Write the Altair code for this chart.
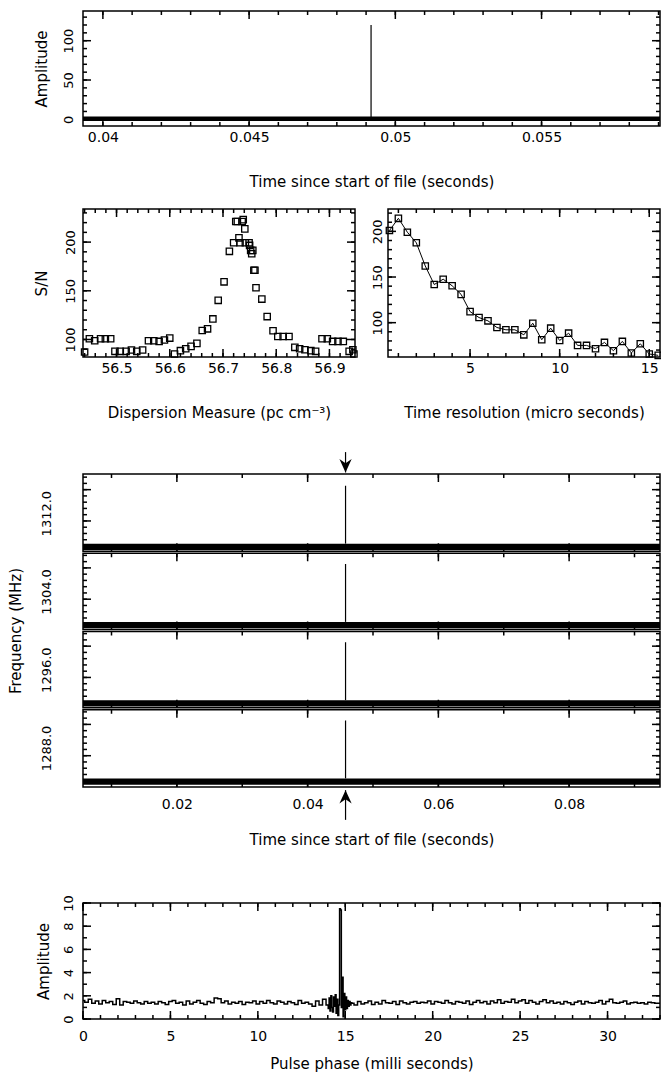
import json
import math
import altair as alt
import pandas as pd

FONT = "DejaVu Sans"

# ------------------------------------------------------------------ data
top_x_domain = [0.03932, 0.05905]
top_y_domain = [-8.5, 137.8]
top_noise_band = [-2.0, 3.5]
top_spike_time = [0.04917]
top_spike_amp = [120.0]

dm_x_domain = [56.437, 56.948]
dm_y_domain = [82.0, 234.0]
dm_values = [56.440, 56.449, 56.459, 56.470, 56.479, 56.489, 56.497, 56.507, 56.518, 56.528,
             56.538, 56.549, 56.560, 56.570, 56.580, 56.590, 56.600, 56.609, 56.620, 56.630,
             56.640, 56.651, 56.661, 56.671, 56.681, 56.691, 56.702, 56.712, 56.720, 56.724,
             56.727, 56.730, 56.732, 56.736, 56.738, 56.741, 56.742, 56.749, 56.750, 56.752,
             56.754, 56.756, 56.758, 56.760, 56.762, 56.773, 56.783, 56.794, 56.803, 56.813,
             56.824, 56.835, 56.844, 56.854, 56.865, 56.874, 56.886, 56.896, 56.906, 56.916,
             56.926, 56.937, 56.944, 56.946]
dm_snr = [87.1, 100.7, 98.7, 100.7, 100.7, 100.7, 87.8, 87.8, 87.8, 89.2,
          87.8, 89.2, 98.7, 98.7, 98.0, 99.4, 101.4, 85.1, 88.5, 90.5,
          92.9, 96.0, 109.2, 110.9, 121.1, 140.2, 159.2, 190.5, 199.3, 221.1,
          221.1, 204.4, 199.3, 221.1, 223.1, 213.6, 199.3, 199.3, 196.6, 191.5,
          188.1, 191.5, 171.1, 171.1, 153.1, 141.5, 123.5, 108.9, 103.1, 103.1,
          103.1, 91.9, 90.5, 89.5, 88.5, 87.8, 100.7, 100.7, 98.0, 98.0,
          98.0, 87.8, 89.5, 85.1]

tres_x_domain = [0.42, 15.6]
tres_y_domain = [62.4, 224.5]
tres_values = [0.5, 1.0, 1.5, 2.0, 2.5, 3.0, 3.5, 4.0, 4.5, 5.0, 5.5, 6.0, 6.5, 7.0, 7.5, 8.0,
               8.5, 9.0, 9.5, 10.0, 10.5, 11.0, 11.5, 12.0, 12.5, 13.0, 13.5, 14.0, 14.5, 15.0, 15.5]
tres_snr = [200.9, 214.3, 199.1, 187.5, 162.1, 141.8, 147.6, 140.4, 131.0, 112.1, 105.6, 102.0,
            94.7, 92.2, 92.2, 86.7, 99.4, 81.3, 94.0, 80.5, 88.5, 75.1, 75.1, 71.5, 78.4, 69.3,
            79.5, 66.8, 76.9, 65.7, 64.2]

wf_x_domain = [0.00564, 0.0939]
wf_freq_labels = ["1312.0", "1304.0", "1296.0", "1288.0"]
wf_noise_band = [0.03, 0.11]
wf_spike_top = 0.85
wf_spike_time = [0.0458]
wf_arrow_above = [4.02, 4.28]
wf_arrow_below = [-0.04, -0.42]

prof_x_domain = [0.0, 33.0]
prof_y_domain = [0.0, 10.0]
prof_seg1_start, prof_seg1_step = 0.0, 0.2
prof_seg1 = [1.6, 1.45, 1.7, 1.35, 1.55, 1.3, 1.6, 1.4, 1.5, 1.25,
             1.75, 1.2, 1.5, 1.45, 1.35, 1.55, 1.4, 1.3, 1.5, 1.35,
             1.45, 1.3, 1.5, 1.4, 1.25, 1.5, 1.6, 1.35, 1.45, 1.2,
             1.55, 1.3, 1.45, 1.6, 1.35, 1.25, 1.5, 1.4, 1.8, 1.75,
             1.4, 1.55, 1.3, 1.45, 1.35, 1.5, 1.25, 1.45, 1.4, 1.55,
             1.3, 1.5, 1.35, 1.6, 1.4, 1.3, 1.55, 1.45, 1.3, 1.5,
             1.4, 1.25, 1.6, 1.35, 1.45, 1.3, 1.1, 1.55, 1.2, 1.7]
prof_seg2_start, prof_seg2_step = 14.0, 0.05
prof_seg2 = [1.2, 0.9, 1.8, 0.7, 2.0, 1.0, 0.6, 1.9, 1.1, 2.1, 0.5, 1.7, 0.3, 1.2,
             9.5, 9.4, 1.0, 3.6, 0.2, 2.2, 0.8, 1.9, 0.9, 1.6, 1.1, 1.5, 1.2, 1.4]
prof_seg3_start, prof_seg3_step = 15.4, 0.2
prof_seg3 = [1.35, 1.2, 1.5, 1.3, 1.4, 1.55, 1.25, 1.45, 1.3, 1.6,
             1.4, 1.35, 1.5, 1.25, 1.55, 1.4, 1.3, 1.45, 1.5, 1.35,
             1.45, 1.4, 1.55, 1.3, 1.5, 1.45, 1.35, 1.6, 1.4, 1.3,
             1.5, 1.45, 1.35, 1.55, 1.25, 1.45, 1.6, 1.4, 1.5, 1.3,
             1.55, 1.4, 1.65, 1.35, 1.5, 1.45, 1.7, 1.4, 1.55, 1.65,
             1.35, 1.6, 1.45, 1.3, 1.5, 1.65, 1.4, 1.55, 1.35, 1.45,
             1.3, 1.5, 1.4, 1.25, 1.45, 1.55, 1.3, 1.5, 1.4, 1.35,
             1.45, 1.6, 1.3, 1.5, 1.7, 1.4, 1.35, 1.45, 1.55, 1.3,
             1.4, 1.45, 1.35, 1.4, 1.3, 1.45, 1.4, 1.35, 1.35]

# ------------------------------------------------------------------ layout
W_TOTAL, H_TOTAL = 577, 1008
FULL_X = (0, 577)
DM_X = (0, 272)
TRES_X = (305, 577)
TOP_Y = (0, 115)
MID_Y = (198, 346)
WF_Y = (463, 776)
PROF_Y = (892, 1008)

# tick glyph kinds -> stroke paths in pixel units (symbol size 4 => unit scale)
TICK_KINDS = ["u8", "u4", "d8", "d4", "r8", "r4", "l8", "l4"]
TICK_PATHS = ["M0,0L0,-8", "M0,0L0,-4", "M0,0L0,8", "M0,0L0,4",
              "M0,0L8,0", "M0,0L4,0", "M0,0L-8,0", "M0,0L-4,0"]


def tick_values(lo, hi, minor, major):
    n0 = math.ceil(lo / minor - 1e-9)
    n1 = math.floor(hi / minor + 1e-9)
    vals = [round(k * minor, 6) for k in range(n0, n1 + 1)]
    majors = [v for v in vals if abs(v / major - round(v / major)) < 1e-6]
    return vals, majors


def sc(dom, rng):
    return alt.Scale(domain=list(dom), range=list(rng), nice=False, zero=False)


def xlab_ax(vals, title, pad, tpad):
    return alt.Axis(orient="bottom", values=vals, ticks=False, domain=False, grid=False,
                    format="~f", labelPadding=pad, labelFlush=False, labelOverlap=False,
                    labelFontSize=14, title=title, titlePadding=tpad, titleFontSize=15)


def ylab_ax(vals, title, pad, tpad, expr=None):
    kw = dict(orient="left", values=vals, ticks=False, domain=False, grid=False, format="~f",
              labelAngle=270, labelAlign="center", labelBaseline="bottom",
              labelPadding=pad, labelFlush=False, labelOverlap=False, labelFontSize=13,
              title=title, titlePadding=tpad, titleFontSize=15)
    if expr:
        kw["labelExpr"] = expr
    return alt.Axis(**kw)


def label_layer(xdom, ydom, xr, yr, xax, yax):
    df = pd.DataFrame({"x": [xdom[0]], "y": [ydom[0]]})
    xax["offset"] = yr[0] - H_TOTAL
    yax["offset"] = -xr[0]
    return alt.Chart(df).mark_point(opacity=0, size=1).encode(
        x=alt.X("x:Q", scale=sc(xdom, xr), axis=xax),
        y=alt.Y("y:Q", scale=sc(ydom, yr), axis=yax))


def rect_layer(xs, ys, x0, x1, y0, y1, **mark):
    df = pd.DataFrame({"rx0": x0, "rx1": x1, "ry0": y0, "ry1": y1})
    return alt.Chart(df).mark_rect(**mark).encode(
        x=alt.X("rx0:Q", scale=xs, axis=None), x2="rx1:Q",
        y=alt.Y("ry0:Q", scale=ys, axis=None), y2="ry1:Q")


def box_layer(xs, ys, x0, x1, y0, y1):
    return rect_layer(xs, ys, x0, x1, y0, y1, fillOpacity=0, stroke="black", strokeWidth=1.5)


class TickSet:
    """Collects inward PGPLOT-style ticks of one panel into a single symbol layer."""

    def __init__(self):
        self.x, self.y, self.k = [], [], []

    def xedge(self, vals, edge, inward_up, major):
        kind = ("u" if inward_up else "d") + ("8" if major else "4")
        for v in vals:
            self.x.append(v)
            self.y.append(edge)
            self.k.append(kind)

    def yedge(self, vals, edge, inward_right, major):
        kind = ("r" if inward_right else "l") + ("8" if major else "4")
        for v in vals:
            self.x.append(edge)
            self.y.append(v)
            self.k.append(kind)

    def layer(self, xs, ys):
        df = pd.DataFrame({"tx": self.x, "ty": self.y, "kind": self.k})
        return alt.Chart(df).mark_point(filled=False, color="black", size=4, strokeWidth=1.5,
                                        opacity=1).encode(
            x=alt.X("tx:Q", scale=xs, axis=None),
            y=alt.Y("ty:Q", scale=ys, axis=None),
            shape=alt.Shape("kind:N", scale=alt.Scale(domain=TICK_KINDS, range=TICK_PATHS),
                            legend=None))


def panel(xdom, ydom, xpx, ypx, xt, yt, xax, yax):
    yr = (ypx[1], ypx[0])
    xs, ys = sc(xdom, xpx), sc(ydom, yr)
    xv, xm = xt
    yv, ym = yt
    t = TickSet()
    for vals, major in ((xv, False), (xm, True)):
        t.xedge(vals, ydom[0], True, major)
        t.xedge(vals, ydom[1], False, major)
    for vals, major in ((yv, False), (ym, True)):
        t.yedge(vals, xdom[0], True, major)
        t.yedge(vals, xdom[1], False, major)
    L = [label_layer(xdom, ydom, xpx, yr, xax, yax),
         box_layer(xs, ys, [xdom[0]], [xdom[1]], [ydom[0]], [ydom[1]]),
         t.layer(xs, ys)]
    return xs, ys, L


layers = []

# ------------------------------------------------------------------ top panel
xt = tick_values(*top_x_domain, 0.001, 0.005)
yt = tick_values(*top_y_domain, 10, 50)
xs, ys, L = panel(top_x_domain, top_y_domain, FULL_X, TOP_Y, xt, yt,
                  xlab_ax(xt[1], "Time since start of file (seconds)", 4, 30),
                  ylab_ax(yt[1], "Amplitude", 8, 13))
layers += L
layers.append(rect_layer(xs, ys, [top_x_domain[0]], [top_x_domain[1]],
                         [top_noise_band[0]], [top_noise_band[1]], color="black"))
layers.append(alt.Chart(pd.DataFrame({"t": top_spike_time, "lo": [0.0], "hi": top_spike_amp})).mark_rule(
    color="black", strokeWidth=1.2).encode(
    x=alt.X("t:Q", scale=xs, axis=None), y=alt.Y("lo:Q", scale=ys, axis=None), y2="hi:Q"))

# ------------------------------------------------------------------ DM panel
xt = tick_values(*dm_x_domain, 0.02, 0.1)
yt = tick_values(*dm_y_domain, 10, 50)
xs, ys, L = panel(dm_x_domain, dm_y_domain, DM_X, MID_Y, xt, yt,
                  xlab_ax(xt[1], "Dispersion Measure (pc cm\u207b\u00b3)", 4, 30),
                  ylab_ax(yt[1], "S/N", 6, 15))
layers += L
layers.append(alt.Chart(pd.DataFrame({"dm": dm_values, "snr": dm_snr})).mark_point(
    shape="square", filled=False, color="black", size=40, strokeWidth=1.3, opacity=1).encode(
    x=alt.X("dm:Q", scale=xs, axis=None), y=alt.Y("snr:Q", scale=ys, axis=None)))

# ------------------------------------------------------------------ time-resolution panel
xt = tick_values(*tres_x_domain, 1, 5)
yt = tick_values(*tres_y_domain, 10, 50)
xs, ys, L = panel(tres_x_domain, tres_y_domain, TRES_X, MID_Y, xt, yt,
                  xlab_ax(xt[1], "Time resolution (micro seconds)", 4, 30),
                  ylab_ax(yt[1], None, 4, 10))
layers += L
tres_df = pd.DataFrame({"res": tres_values, "snr": tres_snr})
layers.append(alt.Chart(tres_df).mark_line(color="black", strokeWidth=1).encode(
    x=alt.X("res:Q", scale=xs, axis=None), y=alt.Y("snr:Q", scale=ys, axis=None)))
layers.append(alt.Chart(tres_df).mark_point(
    shape="square", filled=False, color="black", size=40, strokeWidth=1.3, opacity=1).encode(
    x=alt.X("res:Q", scale=xs, axis=None), y=alt.Y("snr:Q", scale=ys, axis=None)))

# ------------------------------------------------------------------ waterfall panel
n_sub = len(wf_freq_labels)
wf_y_domain = [0, n_sub]
wf_yr = (WF_Y[1], WF_Y[0])
xs, ys = sc(wf_x_domain, FULL_X), sc(wf_y_domain, wf_yr)
h_sub = (WF_Y[1] - WF_Y[0]) / n_sub
gap = 1.0 / h_sub
xv, xm = tick_values(*wf_x_domain, 0.01, 0.02)
sub_fracs = [0.08, 0.16, 0.24, 0.32, 0.40, 0.48, 0.56, 0.64, 0.72, 0.80, 0.88, 0.96]
sub_major = [0.40, 0.80]
yv = [round(k + f, 4) for k in range(n_sub) for f in sub_fracs]
ym = [round(k + f, 4) for k in range(n_sub) for f in sub_major]
base = [n_sub - 1 - k for k in range(n_sub)]
sub_lo = [b + (gap if b > 0 else 0) for b in base]
sub_hi = [b + 1 - (gap if b < n_sub - 1 else 0) for b in base]

label_expr = "%s[floor(datum.value)]" % json.dumps(list(reversed(wf_freq_labels)))
layers.append(label_layer(wf_x_domain, wf_y_domain, FULL_X, wf_yr,
                          xlab_ax(xm, "Time since start of file (seconds)", 10, 21),
                          ylab_ax([k + 0.5 for k in range(n_sub)], "Frequency (MHz)", 30, 17,
                                  label_expr)))
layers.append(box_layer(xs, ys, [wf_x_domain[0]] * n_sub, [wf_x_domain[1]] * n_sub, sub_lo, sub_hi))
wt = TickSet()
for k in range(n_sub):
    for vals, major in ((xv, False), (xm, True)):
        wt.xedge(vals, sub_hi[k], False, major)
        wt.xedge(vals, sub_lo[k], True, major)
for vals, major in ((yv, False), (ym, True)):
    wt.yedge(vals, wf_x_domain[0], True, major)
    wt.yedge(vals, wf_x_domain[1], False, major)
layers.append(wt.layer(xs, ys))

layers.append(rect_layer(xs, ys, [wf_x_domain[0]] * n_sub, [wf_x_domain[1]] * n_sub,
                         [b + wf_noise_band[0] for b in base],
                         [b + wf_noise_band[1] for b in base], color="black"))
layers.append(alt.Chart(pd.DataFrame({
    "t": wf_spike_time * n_sub,
    "lo": [b + wf_noise_band[1] for b in base],
    "hi": [b + wf_spike_top for b in base]})).mark_rule(color="black", strokeWidth=1.2).encode(
    x=alt.X("t:Q", scale=xs, axis=None), y=alt.Y("lo:Q", scale=ys, axis=None), y2="hi:Q"))
arrow_df = pd.DataFrame({
    "t": wf_spike_time * 2,
    "tip": [wf_arrow_above[0], wf_arrow_below[0]],
    "end": [wf_arrow_above[1], wf_arrow_below[1]],
    "dir": ["down", "up"]})
layers.append(alt.Chart(arrow_df).mark_rule(color="black", strokeWidth=1.2).encode(
    x=alt.X("t:Q", scale=xs, axis=None), y=alt.Y("tip:Q", scale=ys, axis=None), y2="end:Q"))
layers.append(alt.Chart(arrow_df).mark_point(filled=True, color="black", size=150, opacity=1).encode(
    x=alt.X("t:Q", scale=xs, axis=None),
    y=alt.Y("tip:Q", scale=ys, axis=None),
    shape=alt.Shape("dir:N", scale=alt.Scale(
        domain=["down", "up"],
        range=["M-1,-2.2L0,0L1,-2.2L0,-1.5Z", "M-1,2.2L0,0L1,2.2L0,1.5Z"]), legend=None)))

# ------------------------------------------------------------------ pulse profile
xt = tick_values(*prof_x_domain, 1, 5)
yt = tick_values(*prof_y_domain, 1, 2)
xs, ys, L = panel(prof_x_domain, prof_y_domain, FULL_X, PROF_Y, xt, yt,
                  xlab_ax(xt[1], "Pulse phase (milli seconds)", 10, 13),
                  ylab_ax(yt[1], "Amplitude", 8, 11))
layers += L
px, py = [], []
for start, step, seg in ((prof_seg1_start, prof_seg1_step, prof_seg1),
                         (prof_seg2_start, prof_seg2_step, prof_seg2),
                         (prof_seg3_start, prof_seg3_step, prof_seg3)):
    for i, v in enumerate(seg):
        px.append(round(start + i * step, 4))
        py.append(v)
layers.append(alt.Chart(pd.DataFrame({"phase": px, "amp": py})).mark_line(
    interpolate="step", color="black", strokeWidth=1.5).encode(
    x=alt.X("phase:Q", scale=xs, axis=None), y=alt.Y("amp:Q", scale=ys, axis=None)))

# ------------------------------------------------------------------ assemble
chart = alt.layer(*layers).resolve_scale(
    x="independent", y="independent", shape="independent"
).resolve_axis(x="independent", y="independent").properties(
    width=W_TOTAL, height=H_TOTAL,
    autosize=alt.AutoSizeParams(type="none"),
    padding={"left": 75, "top": 3, "right": 1, "bottom": 54}
).configure_view(strokeWidth=0).configure_axis(
    labelFont=FONT, titleFont=FONT, labelColor="black", titleColor="black",
    titleFontWeight="normal")

chart.save("out.html", embed_options={"renderer": "svg", "actions": False})
